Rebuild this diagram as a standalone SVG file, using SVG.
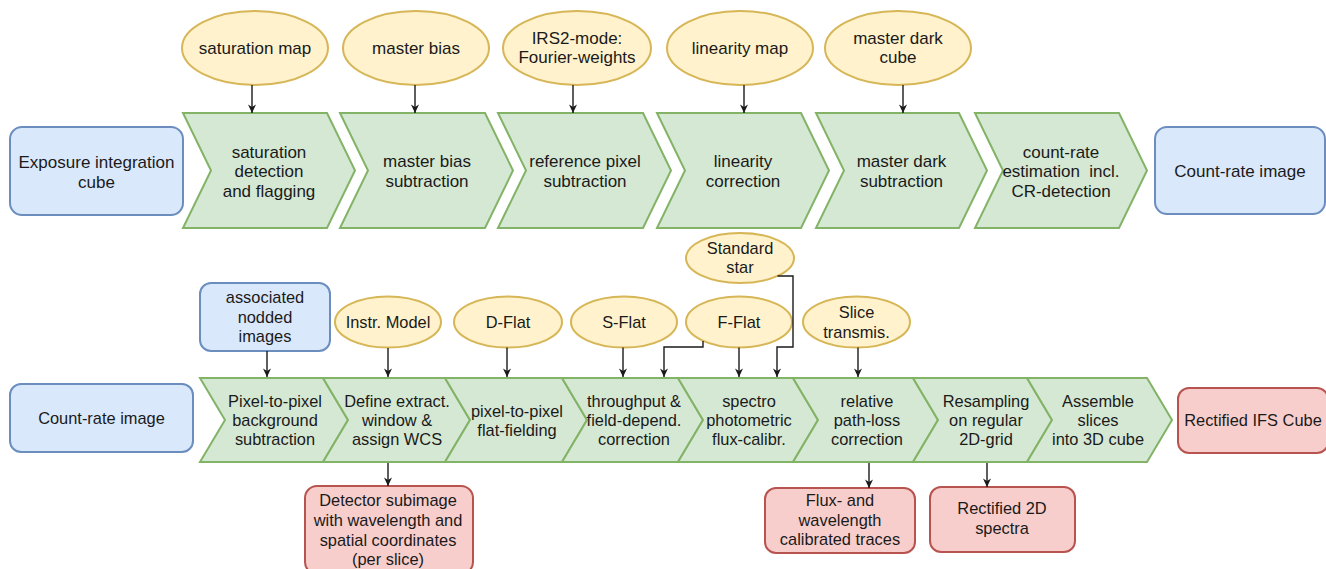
<svg xmlns="http://www.w3.org/2000/svg" width="1326" height="569" viewBox="0 0 1326 569">
<style>
.blue{fill:#dae8fc;stroke:#6c8ebf;stroke-width:2}
.green{fill:#d5e8d4;stroke:#82b366;stroke-width:2}
.yellow{fill:#fff2cc;stroke:#d6b656;stroke-width:2}
.red{fill:#f8cecc;stroke:#b85450;stroke-width:2}
text{font-family:"Liberation Sans",Arial,sans-serif;fill:#1a1a1a;text-anchor:middle}
.t17{font-size:17px}
.t16{font-size:16.4px}
.conn{fill:none;stroke:#1a1a1a;stroke-width:1.4;marker-end:url(#arr)}
</style>
<defs>
<marker id="arr" viewBox="0 0 10 10" refX="9.5" refY="5" markerWidth="10" markerHeight="10" markerUnits="userSpaceOnUse" orient="auto">
<path d="M1,1 L9.5,5 L1,9 L3.5,5 z" fill="#1a1a1a"/>
</marker>
</defs>
<rect width="1326" height="569" fill="#ffffff"/>

<!-- Top row -->
<g id="exposure-cube"><rect class="blue" x="10" y="127" width="173" height="88" rx="12"/>
<text class="t17" x="96.5" y="168">Exposure integration</text><text class="t17" x="96.5" y="188">cube</text></g>

<g id="step-saturation"><polygon class="green" points="183,113 327,113 355,170.5 327,228 183,228 211,170.5"/>
<text class="t17" x="269" y="157.5">saturation</text><text class="t17" x="269" y="177">detection</text><text class="t17" x="269" y="196.5">and flagging</text></g>
<g id="step-bias"><polygon class="green" points="340,113 485,113 513,170.5 485,228 340,228 368,170.5"/>
<text class="t17" x="427" y="167">master bias</text><text class="t17" x="427" y="187">subtraction</text></g>
<g id="step-refpix"><polygon class="green" points="498,113 643,113 671,170.5 643,228 498,228 526,170.5"/>
<text class="t17" x="585" y="167">reference pixel</text><text class="t17" x="585" y="187">subtraction</text></g>
<g id="step-linearity"><polygon class="green" points="657,113 801,113 829,170.5 801,228 657,228 685,170.5"/>
<text class="t17" x="743" y="167">linearity</text><text class="t17" x="743" y="187">correction</text></g>
<g id="step-dark"><polygon class="green" points="816,113 959,113 987,170.5 959,228 816,228 844,170.5"/>
<text class="t17" x="901.5" y="167">master dark</text><text class="t17" x="901.5" y="187">subtraction</text></g>
<g id="step-countrate"><polygon class="green" points="975,113 1119,113 1147,170.5 1119,228 975,228 1003,170.5"/>
<text class="t17" x="1061" y="157.5">count-rate</text><text class="t17" x="1061" y="177" style="white-space:pre">estimation  incl.</text><text class="t17" x="1061" y="196.5">CR-detection</text></g>

<g id="countrate-top"><rect class="blue" x="1155" y="127" width="170" height="87" rx="12"/>
<text class="t17" x="1240" y="177">Count-rate image</text></g>

<g id="saturation-map"><ellipse class="yellow" cx="255" cy="48" rx="73" ry="37"/><text class="t17" x="255" y="54">saturation map</text></g>
<g id="master-bias"><ellipse class="yellow" cx="416" cy="48" rx="73" ry="37"/><text class="t17" x="416" y="54">master bias</text></g>
<g id="irs2"><ellipse class="yellow" cx="577" cy="48" rx="74" ry="37"/><text class="t17" x="577" y="44">IRS2-mode:</text><text class="t17" x="577" y="63">Fourier-weights</text></g>
<g id="linearity-map"><ellipse class="yellow" cx="740" cy="48" rx="73" ry="37"/><text class="t17" x="740" y="54">linearity map</text></g>
<g id="master-dark"><ellipse class="yellow" cx="898" cy="48" rx="73" ry="37"/><text class="t17" x="898" y="44">master dark</text><text class="t17" x="898" y="63">cube</text></g>

<!-- Bottom row -->
<g id="countrate-bottom"><rect class="blue" x="10" y="384" width="183" height="68" rx="11"/>
<text class="t16" x="101.5" y="424">Count-rate image</text></g>
<g id="nodded"><rect class="blue" x="200" y="283" width="130" height="68" rx="11"/>
<text class="t16" x="265" y="303">associated</text><text class="t16" x="265" y="322.5">nodded</text><text class="t16" x="265" y="342">images</text></g>

<g id="step-bg"><polygon class="green" points="200,378 323,378 348,420 323,462 200,462 225,420"/>
<text class="t16" x="275" y="407">Pixel-to-pixel</text><text class="t16" x="275" y="426">background</text><text class="t16" x="275" y="445">subtraction</text></g>
<g id="step-extract"><polygon class="green" points="323,378 445,378 470,420 445,462 323,462 348,420"/>
<text class="t16" x="397" y="407">Define extract.</text><text class="t16" x="397" y="426">window &amp;</text><text class="t16" x="397" y="445">assign WCS</text></g>
<g id="step-flat"><polygon class="green" points="445,378 562,378 587,420 562,462 445,462 470,420"/>
<text class="t16" x="517" y="417">pixel-to-pixel</text><text class="t16" x="517" y="436">flat-fielding</text></g>
<g id="step-throughput"><polygon class="green" points="562,378 678,378 703,420 678,462 562,462 587,420"/>
<text class="t16" x="634" y="407">throughput &amp;</text><text class="t16" x="634" y="426">field-depend.</text><text class="t16" x="634" y="445">correction</text></g>
<g id="step-flux"><polygon class="green" points="678,378 793,378 818,420 793,462 678,462 703,420"/>
<text class="t16" x="749" y="407">spectro</text><text class="t16" x="749" y="426">photometric</text><text class="t16" x="749" y="445">flux-calibr.</text></g>
<g id="step-pathloss"><polygon class="green" points="793,378 913,378 938,420 913,462 793,462 818,420"/>
<text class="t16" x="867" y="407">relative</text><text class="t16" x="867" y="426">path-loss</text><text class="t16" x="867" y="445">correction</text></g>
<g id="step-resample"><polygon class="green" points="913,378 1027,378 1052,420 1027,462 913,462 938,420"/>
<text class="t16" x="986" y="407">Resampling</text><text class="t16" x="986" y="426">on regular</text><text class="t16" x="986" y="445">2D-grid</text></g>
<g id="step-assemble"><polygon class="green" points="1027,378 1147,378 1172,420 1147,462 1027,462 1052,420"/>
<text class="t16" x="1098" y="407">Assemble</text><text class="t16" x="1098" y="426">slices</text><text class="t16" x="1098" y="445">into 3D cube</text></g>

<g id="ifs-cube"><rect class="red" x="1178" y="388" width="150" height="65" rx="11"/>
<text class="t16" x="1253" y="426">Rectified IFS Cube</text></g>

<g id="instr-model"><ellipse class="yellow" cx="388" cy="322" rx="53" ry="25.5"/><text class="t16" x="388" y="328">Instr. Model</text></g>
<g id="d-flat"><ellipse class="yellow" cx="508" cy="322" rx="54" ry="25.5"/><text class="t16" x="508" y="328">D-Flat</text></g>
<g id="s-flat"><ellipse class="yellow" cx="624" cy="322" rx="53" ry="25.5"/><text class="t16" x="624" y="328">S-Flat</text></g>
<g id="f-flat"><ellipse class="yellow" cx="739" cy="322" rx="53" ry="25.5"/><text class="t16" x="739" y="328">F-Flat</text></g>
<g id="slice-transmis"><ellipse class="yellow" cx="856.5" cy="322" rx="53.5" ry="25.5"/><text class="t16" x="856.5" y="318">Slice</text><text class="t16" x="856.5" y="337.5">transmis.</text></g>
<g id="standard-star"><ellipse class="yellow" cx="740" cy="258" rx="54" ry="25"/><text class="t16" x="740" y="254">Standard</text><text class="t16" x="740" y="273">star</text></g>

<g id="detector-subimage"><rect class="red" x="305" y="486" width="168" height="88" rx="12"/>
<text class="t16" x="388" y="506">Detector subimage</text><text class="t16" x="388" y="526">with wavelength and</text><text class="t16" x="388" y="545.5">spatial coordinates</text><text class="t16" x="388" y="565">(per slice)</text></g>
<g id="flux-traces"><rect class="red" x="765" y="488" width="150" height="65" rx="11"/>
<text class="t16" x="840" y="506">Flux- and</text><text class="t16" x="840" y="525.5">wavelength</text><text class="t16" x="840" y="545">calibrated traces</text></g>
<g id="rectified-2d"><rect class="red" x="930" y="487" width="145" height="65" rx="11"/>
<text class="t16" x="1002" y="514">Rectified 2D</text><text class="t16" x="1002" y="534">spectra</text></g>

<!-- Connectors -->
<g id="connectors">
<path class="conn" d="M252,85 V113"/>
<path class="conn" d="M415,85 V113"/>
<path class="conn" d="M573,85 V113"/>
<path class="conn" d="M744,85 V113"/>
<path class="conn" d="M903,85 V113"/>
<path class="conn" d="M267,351 V377"/>
<path class="conn" d="M388,348 V377"/>
<path class="conn" d="M507,347.5 V377"/>
<path class="conn" d="M623,347.5 V377"/>
<path class="conn" d="M703,341 V347 H664 V377"/>
<path class="conn" d="M739,347.5 V377"/>
<path class="conn" d="M777.5,276 H793 V347 H777 V377"/>
<path class="conn" d="M858,347.5 V377"/>
<path class="conn" d="M388,463 V486"/>
<path class="conn" d="M869,463 V488"/>
<path class="conn" d="M987,463 V487"/>
</g>
</svg>
